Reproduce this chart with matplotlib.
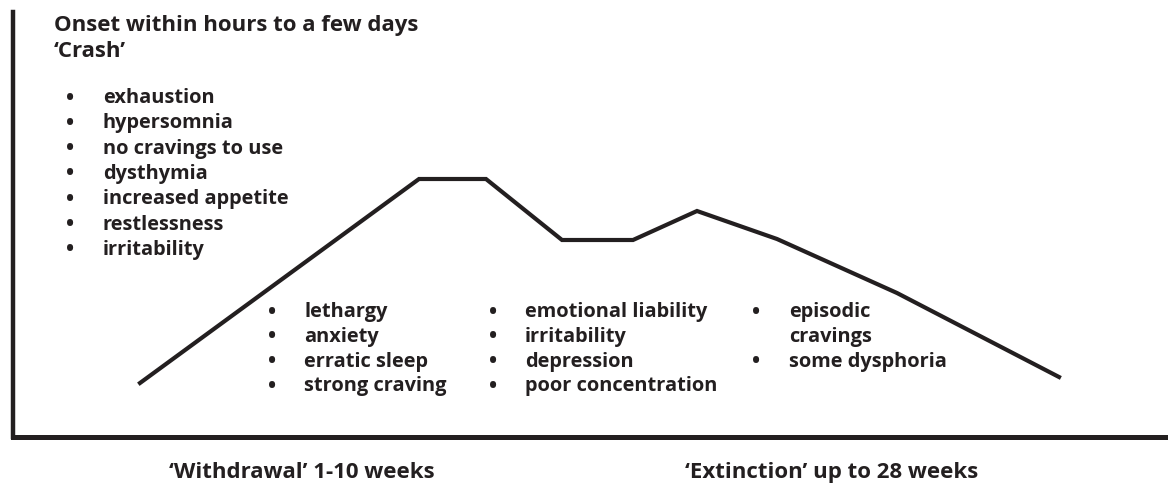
import matplotlib
matplotlib.use("Agg")
import matplotlib.pyplot as plt

# ---- data ----
curve_x = [127, 406, 473, 549, 620, 684, 764, 884, 1046]
curve_y = [54, 258, 258, 197, 197, 226, 198, 144, 60]

heading = ["Onset within hours to a few days", "\u2018Crash\u2019"]
crash_items = ["exhaustion", "hypersomnia", "no cravings to use", "dysthymia",
               "increased appetite", "restlessness", "irritability"]
withdrawal_col1 = ["lethargy", "anxiety", "erratic sleep", "strong craving"]
withdrawal_col2 = ["emotional liability", "irritability", "depression", "poor concentration"]
extinction_items = [["episodic", "cravings"], ["some dysphoria"]]
phase_labels = ["\u2018Withdrawal\u2019 1-10 weeks", "\u2018Extinction\u2019 up to 28 weeks"]

INK = "#231f20"
FONT = "Open Sans"
FS_ITEM = 14.4
FS_HEAD = 16.0

W, H = 1168, 484
fig = plt.figure(figsize=(W / 100, H / 100), dpi=100)

# main chart axes (left spine at x=13px, bottom spine at y=437px, top at 12px)
ax = fig.add_axes([13 / W, (H - 437) / H, (W - 13) / W, (437 - 12) / H])
ax.set_xlim(0, W - 13)
ax.set_ylim(0, 437 - 12)
for s in ["top", "right"]:
    ax.spines[s].set_visible(False)
ax.spines["left"].set_linewidth(3.2)
ax.spines["bottom"].set_linewidth(3.6)
ax.spines["left"].set_color(INK)
ax.spines["bottom"].set_color(INK)
ax.set_xticks([])
ax.set_yticks([])
ax.patch.set_alpha(0)
ax.plot(curve_x, curve_y, color=INK, lw=3.0, solid_joinstyle="miter", clip_on=False)

# overlay axes in pixel coordinates for text layout
tx = fig.add_axes([0, 0, 1, 1])
tx.set_xlim(0, W)
tx.set_ylim(H, 0)
tx.axis("off")
tx.patch.set_alpha(0)

kw = dict(family=FONT, weight="bold", fontsize=FS_ITEM, color=INK, va="baseline", ha="left")
kh = dict(kw)
kh["fontsize"] = FS_HEAD

tx.text(54, 31, heading[0], **kh)
tx.text(54, 57, heading[1], **kh)

def bullet_list(items, xb, xt, y0, dy):
    y = y0
    for it in items:
        lines = it if isinstance(it, list) else [it]
        kb = dict(kw)
        kb["ha"] = "center"
        kb["fontsize"] = FS_ITEM * 1.1
        tx.text(xb, y + 1.5, "\u2022", **kb)
        for ln in lines:
            tx.text(xt, y, ln, **kw)
            y += dy

bullet_list(crash_items, 70, 103, 103, 25.3)
bullet_list(withdrawal_col1, 272, 304, 317, 24.8)
bullet_list(withdrawal_col2, 493, 525, 317, 24.8)
bullet_list(extinction_items, 756, 789, 317, 24.8)

tx.text(169, 478, phase_labels[0], **kh)
tx.text(685, 478, phase_labels[1], **kh)

fig.savefig("out.png", dpi=100, facecolor="white")
